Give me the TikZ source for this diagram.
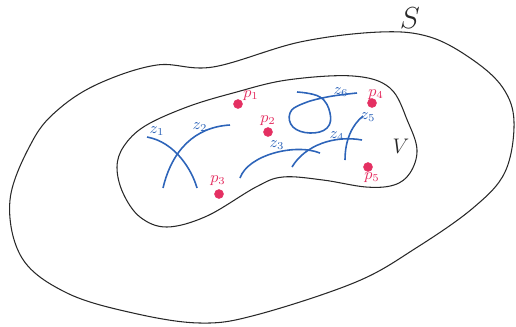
\documentclass[tikz,border=0pt]{standalone}
\usepackage{tikz}
\usetikzlibrary{positioning,calc}
\definecolor{inkb}{RGB}{45,100,185}
\definecolor{inkp}{RGB}{228,48,98}
\definecolor{inkk}{RGB}{40,40,40}
\tikzset{rim/.style={draw=inkk,line width=0.6pt},curv/.style={draw=inkb,line width=0.9pt},pt/.style={circle,fill=inkp,draw=inkp,inner sep=0pt,minimum size=5pt},plab/.style={text=inkp,font=\small,inner sep=1pt},zlab/.style={text=inkb,font=\small,inner sep=1pt}}

\begin{document}
\begin{tikzpicture}[x=0.02cm,y=-0.02cm]
\useasboundingbox (0,0) rectangle (516,326);
% outer set S
\draw[rim] plot[smooth cycle,tension=0.6] coordinates {(213,67) (300,42) (380,32) (430,37) (473,60) (503,88) (514,122) (505,172) (473,208) (416,248) (356,282) (256,315) (200,323) (133,313) (67,293) (22,258) (10,200) (33,140) (60,108) (100,83) (157,65)};
% inner set V
\draw[rim] plot[smooth cycle,tension=0.6] coordinates {(233,93) (287,80) (353,76) (390,88) (408,122) (417,150) (410,173) (394,185) (366,187) (323,180) (283,177) (256,187) (207,216) (167,227) (140,217) (123,193) (117,167) (124,146) (145,126) (187,107)};
\node[font=\LARGE,inkk] (S) at (410,18) {$S$};
\node[font=\large,inkk] (V) at (401,146) {$V$};
% curves z_i
\draw[curv] (147,137) .. controls (175,142) and (192,170) .. (197,188);
\draw[curv] (163,188) .. controls (172,150) and (195,127) .. (230,125);
\draw[curv] (240,178) .. controls (248,155) and (295,143) .. (320,153);
\draw[curv] (292,167) .. controls (305,145) and (335,135) .. (362,140);
\draw[curv] (345,160) .. controls (345,140) and (352,125) .. (363,116);
\draw[curv] plot[smooth,tension=0.7] coordinates {(297,92) (320,97) (330,113) (327,128) (310,133) (293,127) (290,113) (302,104) (327,97) (357,93)};
\node[zlab] (z1) at (157,131) {$z_1$};
\node[zlab] (z2) at (200,127) {$z_2$};
\node[zlab] (z3) at (277,145) {$z_3$};
\node[zlab] (z4) at (337,136) {$z_4$};
\node[zlab] (z5) at (368,117) {$z_5$};
\node[zlab] (z6) at (341,92) {$z_6$};
% points p_i
\node[pt] (p1) at (238,104) {};
\node[pt] (p2) at (268,132) {};
\node[pt] (p3) at (219,194) {};
\node[pt] (p4) at (372,103) {};
\node[pt] (p5) at (368,167) {};
\node[plab] (lp1) at (251,96) {$p_1$};
\node[plab] (lp2) at (268,121) {$p_2$};
\node[plab] (lp3) at (218,181) {$p_3$};
\node[plab] (lp4) at (376,95) {$p_4$};
\node[plab] (lp5) at (372,178) {$p_5$};
\end{tikzpicture}
\end{document}
